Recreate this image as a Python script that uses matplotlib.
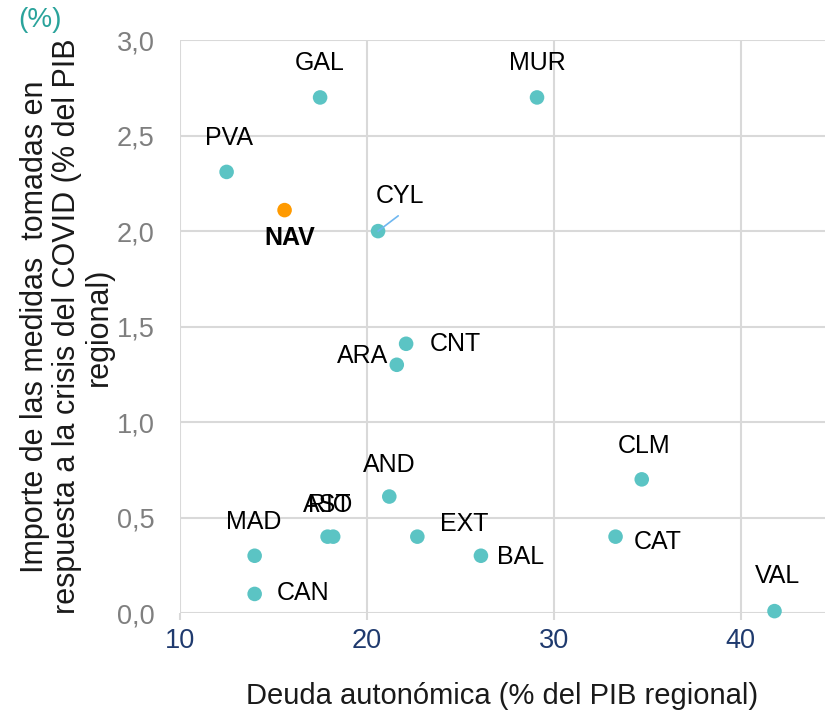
import matplotlib
matplotlib.use("Agg")
import matplotlib.pyplot as plt

plt.rcParams['font.family'] = ['Liberation Sans', 'DejaVu Sans']

regions = ["GAL", "MUR", "PVA", "NAV", "CYL", "CNT", "ARA", "AND", "CLM",
           "AST", "RIO", "EXT", "BAL", "CAT", "MAD", "CAN", "VAL"]
deuda = [17.5, 29.1, 12.5, 15.6, 20.6, 22.1, 21.6, 21.2, 34.7,
         17.9, 18.2, 22.7, 26.1, 33.3, 14.0, 14.0, 41.8]
medidas = [2.70, 2.70, 2.31, 2.11, 2.00, 1.41, 1.30, 0.61, 0.70,
           0.40, 0.40, 0.40, 0.30, 0.40, 0.30, 0.10, 0.01]
xticks = [10, 20, 30, 40]
yticks = [0.0, 0.5, 1.0, 1.5, 2.0, 2.5, 3.0]
ytick_labels = ["0,0", "0,5", "1,0", "1,5", "2,0", "2,5", "3,0"]

# label offsets in points (dx, dy) and alignment
label_pos = {
    "GAL": (0, 25, "center"), "MUR": (0, 25, "center"), "PVA": (2, 24.5, "center"),
    "NAV": (4, -20, "center"), "CYL": (16, 25, "center"), "CNT": (17, 0, "left"),
    "ARA": (-24.5, 6.5, "center"), "AND": (0, 23, "center"), "CLM": (2, 24, "center"),
    "AST": (0, 23, "center"), "RIO": (-2, 23, "center"), "EXT": (16.5, 9.4, "left"),
    "BAL": (11.5, -1, "left"), "CAT": (13, -3.6, "left"), "MAD": (-1, 24, "center"),
    "CAN": (16, 1, "left"), "VAL": (2, 25, "center"),
}

teal = "#5bc4c4"
orange = "#ff9a00"

fig = plt.figure(figsize=(8.25, 7.17), dpi=100)
ax = fig.add_axes([0.218, 0.145, 0.782, 0.799])

colors = [orange if r == "NAV" else teal for r in regions]
ax.scatter(deuda, medidas, s=110, c=colors, zorder=3, clip_on=False, linewidths=0)

for r, x, y in zip(regions, deuda, medidas):
    dx, dy, ha = label_pos[r]
    weight = "bold" if r == "NAV" else "normal"
    ax.annotate(r, (x, y), xytext=(dx, dy), textcoords="offset points",
                ha=ha, va="center", fontsize=18, color="black", fontweight=weight,
                zorder=4)

# leader line for CYL
i = regions.index("CYL")
ax.annotate("", xy=(deuda[i], medidas[i]), xytext=(14.5, 11), textcoords="offset points",
            xycoords="data",
            arrowprops=dict(arrowstyle="-", color="#6fb7f0", lw=1.2, shrinkA=0, shrinkB=0))

ax.set_xlim(10, 44.5)
ax.set_ylim(0, 3.0)
ax.set_xticks(xticks)
ax.set_yticks(yticks)
ax.set_yticklabels(ytick_labels)
ax.tick_params(axis="x", colors="#d9d9d9", labelcolor="#1f3a6e", labelsize=19.5,
               length=5, width=1.5, pad=6, direction="out")
ax.tick_params(axis="y", colors="#d9d9d9", labelcolor="#7f7f7f", labelsize=19.5,
               length=0, width=1.5, pad=18, direction="out")
for s in ax.spines.values():
    s.set_visible(False)
ax.grid(True, color="#d9d9d9", linewidth=1.5, zorder=0)
ax.set_axisbelow(True)

ax.set_xlabel("Deuda autonómica (% del PIB regional)", fontsize=21, color="#1a1a1a",
              labelpad=20)
ax.set_ylabel("Importe de las medidas  tomadas en\nrespuesta a la crisis del COVID (% del PIB\nregional)",
              fontsize=22, color="#1a1a1a", labelpad=2, linespacing=1.1)

fig.text(0.022, 0.99, "(%)", fontsize=20, color="#2aa39b", ha="left", va="top")

fig.savefig("out.png", dpi=100)
